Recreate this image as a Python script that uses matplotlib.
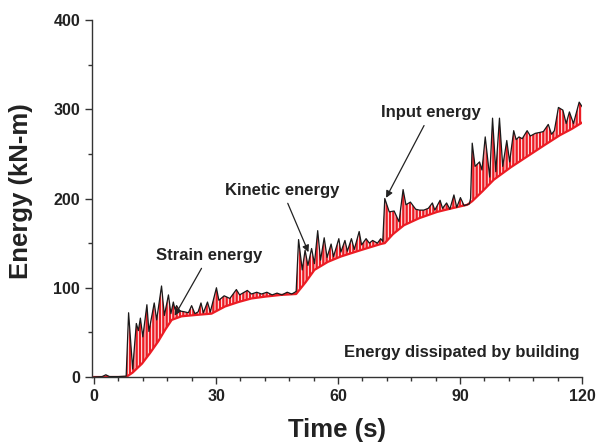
import numpy as np
import matplotlib
matplotlib.use("Agg")
from matplotlib import pyplot as plt
from matplotlib.ticker import MultipleLocator

plt.rcParams['font.family'] = ['Liberation Sans', 'DejaVu Sans']
plt.rcParams['font.weight'] = 'bold'
plt.rcParams['hatch.linewidth'] = 0.7

# input energy (black envelope)
t_in = [0, 2.0, 2.9, 3.8, 6.0, 7.9, 8.5, 9.5, 10.4, 10.9, 11.4, 12.0, 13.0, 13.5, 14.8,
        15.4, 16.6, 17.3, 18.3, 18.9, 19.5, 19.9, 20.3, 21.1, 22.3, 23.2, 24.0, 24.8,
        25.6, 26.3, 26.9, 27.9, 28.6, 30.1, 30.7, 32.0, 33.4, 35.0, 35.8, 37.7, 38.7,
        40.0, 41.2, 42.5, 43.8, 45.0, 46.2, 47.5, 48.6, 49.4, 49.7, 50.3, 51.2, 51.9,
        52.6, 53.5, 54.2, 55.0, 55.7, 56.6, 57.3, 58.3, 58.9, 60.2, 60.7, 61.7, 62.3,
        63.3, 64.0, 65.2, 65.8, 66.9, 67.7, 68.5, 69.7, 70.5, 71.0, 71.5, 72.6, 73.8,
        75.0, 76.0, 76.7, 77.8, 79.1, 80.0, 81.1, 82.2, 83.2, 83.8, 85.1, 85.7, 86.7,
        87.5, 88.5, 89.2, 90.1, 91.0, 92.3, 92.6, 93.0, 93.7, 94.8, 95.4, 96.2, 97.3,
        98.0, 98.8, 99.7, 100.5, 101.5, 102.2, 103.2, 103.8, 104.5, 105.3, 106.5, 107.3,
        108.5, 109.6, 110.5, 111.7, 112.5, 113.2, 114.2, 115.3, 116.1, 116.9, 117.9,
        119.3, 120]
e_in = [0, 0.5, 2.5, 0.5, 0.5, 1, 72, 9, 60, 52, 66, 45, 81, 51, 83,
        64, 102, 69, 92, 71, 84, 76, 80, 74, 73, 72, 80, 71,
        73, 83, 72, 84, 73, 100, 86, 91, 88, 98, 92, 97, 93,
        95, 93, 95, 92, 94, 92, 95, 93, 95, 96, 154, 120, 142,
        125, 144, 127, 164, 131, 156, 134, 149, 135, 155, 140, 153, 141,
        155, 143, 163, 148, 155, 150, 153, 150, 155, 152, 200, 185, 186,
        174, 210, 193, 196, 188, 187, 187, 189, 195, 187, 198, 189, 195,
        188, 204, 190, 201, 192, 194, 200, 262, 236, 241, 232, 269, 224,
        290, 230, 290, 236, 265, 241, 276, 266, 269, 267, 276, 270,
        273, 274, 275, 283, 272, 276, 302, 299, 284, 297, 284,
        308, 303]

# energy dissipated by building (lower red edge)
t_dis = [0, 7.9, 9.5, 11.8, 13.8, 15.8, 17.5, 19.1, 21.5, 25.0, 28.9, 32.2, 35.5, 38.7,
         42.0, 46.0, 49.7, 52.0, 54.2, 57.5, 60.7, 65.5, 70.5, 71.5, 73.5, 76.2, 80.0,
         84.4, 88.0, 91.8, 93.0, 95.5, 98.3, 102.5, 106.5, 110.5, 114.6, 117.5, 120]
e_dis = [0, 0, 5, 15, 27, 40, 53, 64, 68, 69.5, 71, 79, 84, 88,
         90, 92, 93, 106, 120, 129, 135, 142, 149, 150, 160, 170, 178,
         185, 189, 193, 197, 208, 221, 235, 247, 259, 271, 278, 285]

red = '#ec1c24'
ink = '#222222'

fig = plt.figure(figsize=(5.97, 4.42), dpi=100)
ax = fig.add_axes([0.1541, 0.147, 0.8208, 0.8078])

poly_t = np.r_[t_in, t_dis[::-1]]
poly_e = np.r_[e_in, e_dis[::-1]]
ax.fill(poly_t, poly_e, facecolor=red, edgecolor='none', lw=0)
# white striping inside the band
ax.fill(poly_t, poly_e, facecolor='none', edgecolor='white', hatch='|||||', lw=0)
ax.plot(t_dis, e_dis, color=red, lw=1.6)
ax.plot(t_in, e_in, color='#1a1a1a', lw=0.9)

ax.set_xlim(-0.5, 120)
ax.set_ylim(0, 400)
ax.xaxis.set_major_locator(MultipleLocator(30))
ax.xaxis.set_minor_locator(MultipleLocator(6))
ax.yaxis.set_major_locator(MultipleLocator(100))
ax.yaxis.set_minor_locator(MultipleLocator(50))
for s in ['top', 'right']:
    ax.spines[s].set_visible(False)
for s in ['left', 'bottom']:
    ax.spines[s].set_color('#333333')
    ax.spines[s].set_linewidth(1.0)
ax.tick_params(which='major', direction='out', length=5, width=1, colors='#333333',
               labelsize=11.5, labelcolor=ink)
ax.tick_params(which='minor', direction='out', length=3, width=1, colors='#333333')
ax.set_xlabel('Time (s)', fontsize=18.5, fontweight='bold', color=ink, labelpad=10)
ax.set_ylabel('Energy (kN-m)', fontsize=18.5, fontweight='bold', color=ink)
ax.yaxis.set_label_coords(-0.12, 0.52)

arr = dict(arrowstyle='-|>', color=ink, lw=0.9, mutation_scale=10)
ax.annotate('Strain energy', xy=(19.5, 66), xytext=(28.2, 136), ha='center', va='center',
            fontsize=12, fontweight='bold', color=ink, arrowprops=arr)
ax.annotate('Kinetic energy', xy=(53.0, 137), xytext=(46.3, 209), ha='center', va='center',
            fontsize=12, fontweight='bold', color=ink, arrowprops=arr)
ax.annotate('Input energy', xy=(71.5, 198), xytext=(82.8, 296), ha='center', va='center',
            fontsize=12, fontweight='bold', color=ink, arrowprops=arr)
ax.text(119.5, 27, 'Energy dissipated by building', ha='right', va='center',
        fontsize=12, fontweight='bold', color=ink)

fig.savefig('out.png', dpi=100)
